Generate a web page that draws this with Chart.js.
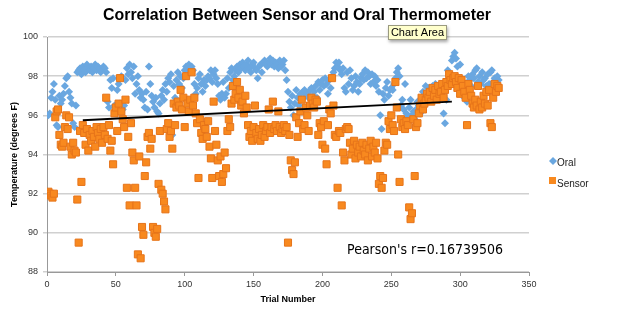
<!DOCTYPE html>
<html>
<head>
<meta charset="utf-8">
<script src="https://cdn.jsdelivr.net/npm/chart.js@4"></script>
<style>
  body { margin: 0; background: #fff; }
  #wrap { position: relative; width: 626px; height: 327px; }
</style>
</head>
<body>
<div id="wrap"><canvas id="chart" width="626" height="327"></canvas></div>
<script>
// trial numbers start at 1
const oral = [
  96.0, 96.1, 96.9, 97.2, 97.6, 96.8, 95.5, 95.4, 97.0, 96.6,
  96.8, 97.1, 97.5, 97.9, 98.0, 97.2, 96.9, 96.6, 95.6, 95.4,
  96.5, 98.2, 98.3, 98.4, 98.1, 98.5, 98.3, 98.2, 98.6, 98.4,
  98.3, 98.5, 98.2, 98.4, 98.6, 98.3, 98.5, 98.4, 98.2, 98.3,
  98.5, 98.4, 98.2, 96.7, 96.4, 97.8, 97.4, 97.9, 96.5, 96.3,
  97.3, 97.6, 96.6, 98.0, 96.3, 96.5, 97.8, 98.4, 98.1, 98.6,
  98.2, 97.9, 98.5, 97.1, 97.6, 98.0, 97.3, 96.9, 97.1, 96.8,
  96.4, 97.2, 96.3, 98.5, 97.6, 97.0, 96.7, 96.4, 96.9, 96.2,
  96.1, 96.6, 97.0, 97.3, 96.8, 97.6, 97.2, 97.9, 97.7, 98.1,
  95.0, 97.5, 96.9, 97.8, 98.2, 97.6, 98.0, 97.4, 97.9, 98.3,
  98.5, 98.4, 98.6, 98.2, 98.5, 98.3, 97.6, 97.1, 97.4, 97.9,
  98.1, 97.6, 97.2, 97.8, 97.5, 97.8, 98.0, 97.9, 98.3, 97.7,
  98.1, 98.3, 97.9, 97.6, 97.0, 96.8, 97.1, 97.7, 96.9, 97.1,
  97.9, 97.4, 98.2, 98.4, 97.8, 98.0, 98.3, 98.5, 98.2, 98.6,
  98.4, 98.7, 98.5, 98.3, 98.6, 98.8, 98.4, 98.2, 98.6, 98.7,
  98.4, 98.3, 97.9, 98.5, 98.6, 98.2, 98.7, 98.8, 98.6, 98.5,
  98.7, 98.9, 98.6, 98.8, 98.5, 98.7, 98.6, 98.4, 98.8, 98.5,
  98.6, 98.8, 98.3, 97.8, 97.2, 96.7, 96.4, 97.0, 96.0, 96.6,
  97.3, 96.9, 96.5, 97.1, 96.8, 97.2, 97.3, 97.0, 97.1, 96.9,
  97.3, 97.4, 97.0, 97.2, 97.5, 96.9, 97.7, 97.3, 97.6, 97.8,
  97.5, 97.9, 97.6, 97.1, 97.8, 97.4, 98.0, 98.2, 98.4, 98.7,
  98.5, 98.7, 98.3, 98.1, 98.4, 97.4, 97.2, 98.2, 97.6, 98.3,
  97.9, 97.3, 97.5, 98.0, 97.7, 97.2, 97.6, 97.9, 98.1, 97.8,
  98.3, 97.9, 98.2, 98.0, 97.6, 98.1, 97.7, 98.0, 97.5, 97.8,
  97.2, 96.0, 95.3, 97.1, 96.8, 97.4, 97.7, 97.0, 97.3, 97.4,
  97.3, 97.6, 97.9, 98.2, 98.4, 98.0, 96.5, 96.8, 96.3, 97.6,
  96.1, 95.9, 96.4, 96.8, 96.0, 96.2, 95.8, 96.3, 96.7, 96.5,
  96.1, 96.9, 97.2, 96.6, 97.5, 97.0, 97.4, 96.8, 97.3, 97.5,
  97.1, 97.6, 97.2, 96.9, 97.4, 97.0, 97.3, 96.1, 95.6, 96.8,
  98.3, 97.9, 98.1, 98.8, 99.0, 99.2, 98.9, 98.5, 97.5, 98.6,
  97.8, 97.1, 96.9, 97.6, 96.7, 98.0, 97.8, 97.5, 98.1, 97.9,
  98.3, 98.4, 97.7, 98.0, 97.6, 98.2, 97.8, 97.9, 97.5, 98.1,
  97.6, 98.2, 98.3, 97.7, 97.9, 97.5, 98.0, 97.8
];

const sensor = [
  92.1, 92.0, 91.9, 91.8, 92.0, 95.9, 96.2, 96.3, 95.0, 94.5,
  94.4, 94.6, 95.4, 96.0, 95.3, 95.9, 94.4, 94.0, 94.6, 94.2,
  94.1, 91.7, 89.5, 95.2, 92.6, 95.5, 95.1, 94.5, 95.3, 94.2,
  95.0, 94.7, 95.2, 94.9, 94.4, 95.4, 95.1, 94.8, 95.3, 94.6,
  95.4, 95.0, 96.9, 94.8, 95.5, 94.2, 94.7, 93.5, 96.1, 96.4,
  95.2, 96.6, 97.9, 96.2, 95.8, 95.4, 96.8, 92.3, 94.9, 91.4,
  95.6, 94.1, 93.7, 92.3, 91.4, 88.9, 93.9, 88.7, 90.3, 89.9,
  92.9, 93.6, 94.9, 95.1, 94.3, 94.8, 90.3, 90.0, 89.8, 90.2,
  92.5, 95.2, 92.2, 92.0, 91.6, 91.2, 95.3, 95.6, 94.9, 95.2,
  94.3, 96.6, 95.5, 96.4, 96.7, 96.5, 97.3, 96.3, 96.9, 95.4,
  98.0, 96.6, 96.2, 96.8, 98.2, 96.5, 96.9, 96.1, 95.6, 92.8,
  95.8, 95.1, 94.8, 95.5, 95.3, 94.9, 95.7, 94.4, 93.8, 92.8,
  96.7, 95.2, 94.5, 93.7, 92.9, 93.9, 92.6, 93.0, 94.1, 93.3,
  95.2, 95.8, 95.4, 96.6, 97.5, 96.8, 97.1, 97.7, 96.9, 97.3,
  96.5, 96.7, 96.1, 97.0, 96.4, 95.5, 94.9, 95.2, 94.7, 95.4,
  96.5, 95.1, 94.8, 95.3, 94.7, 95.0, 95.5, 94.9, 95.2, 95.4,
  96.3, 95.1, 95.4, 96.7, 95.3, 95.5, 95.2, 96.2, 95.4, 95.1,
  95.3, 95.5, 95.2, 95.4, 89.5, 95.0, 93.7, 93.2, 93.0, 93.6,
  95.9, 94.9, 95.6, 96.2, 96.8, 95.3, 95.5, 96.4, 96.0, 95.2,
  96.5, 96.9, 96.6, 96.4, 96.8, 96.7, 95.0, 95.6, 95.4, 94.5,
  95.7, 94.3, 93.5, 95.5, 96.3, 96.1, 97.9, 96.5, 95.0, 94.9,
  92.3, 95.2, 95.1, 91.4, 94.1, 93.7, 95.3, 95.4, 95.3, 94.6,
  94.0, 94.3, 94.7, 93.8, 94.5, 94.1, 94.4, 93.9, 94.6, 94.2,
  94.0, 94.5, 93.7, 94.3, 94.7, 93.9, 94.4, 94.1, 94.6, 93.8,
  92.5, 92.9, 92.3, 92.8, 94.2, 94.6, 94.5, 95.7, 95.3, 96.0,
  95.5, 95.2, 97.7, 96.4, 94.0, 92.6, 95.8, 95.4, 95.6, 95.3,
  95.7, 95.5, 91.3, 90.7, 91.0, 95.8, 92.9, 95.4, 95.6, 96.1,
  96.5, 96.9, 96.3, 96.6, 96.8, 97.1, 96.9, 97.2, 96.7, 97.4,
  97.0, 97.3, 96.8, 97.5, 97.1, 97.2, 97.6, 96.9, 97.3, 97.7,
  97.5, 98.1, 97.8, 97.6, 97.9, 98.0, 97.7, 97.4, 97.9, 97.1,
  97.8, 97.5, 97.2, 96.9, 95.5, 97.6, 97.3, 97.0, 96.6, 96.4,
  96.8, 96.5, 97.5, 96.3, 96.7, 96.4, 97.0, 96.6, 97.2, 96.5,
  97.3, 95.6, 95.4, 96.9, 97.6, 97.2, 97.5, 97.4
];

// trendline ends as drawn in the picture
const trendX = [26, 294];
const trendY = [95.75, 96.7];

const xTicks = [0, 50, 100, 150, 200, 250, 300, 350];
const yTicks = [88, 90, 92, 94, 96, 98, 100];

const titleText = 'Correlation Between Sensor and Oral Thermometer';
const pearsonText = "Pearson's r=0.16739506";

const toPoints = arr => arr.map((v, i) => ({ x: i + 1, y: v }));

Chart.defaults.font.family = '"Liberation Sans", Arial, sans-serif';

const BLUE = '#6aa7e0';
const ORANGE = '#f8891f';

const overlay = {
  id: 'overlay',
  afterDraw(chart) {
    const ctx = chart.ctx;
    ctx.save();

    // title
    ctx.fillStyle = '#000';
    ctx.font = 'bold 16px "Liberation Sans", Arial, sans-serif';
    ctx.textAlign = 'center';
    ctx.textBaseline = 'alphabetic';
    ctx.fillText(titleText, 297, 20, 388);

    // pearson label
    ctx.font = '14px "DejaVu Sans", sans-serif';
    ctx.textAlign = 'left';
    ctx.textBaseline = 'middle';
    ctx.fillText(pearsonText, 347, 250, 156);

    // legend
    ctx.font = '10px "Liberation Sans", Arial, sans-serif';
    ctx.fillStyle = BLUE;
    ctx.beginPath();
    ctx.moveTo(553, 157); ctx.lineTo(557, 161); ctx.lineTo(553, 165); ctx.lineTo(549, 161);
    ctx.closePath(); ctx.fill();
    ctx.fillStyle = '#222';
    ctx.fillText('Oral', 557, 163);
    ctx.fillStyle = ORANGE;
    ctx.fillRect(549, 177, 7, 7);
    ctx.fillStyle = '#222';
    ctx.fillText('Sensor', 557, 184);

    // hover tooltip box left over the title
    ctx.shadowColor = 'rgba(0,0,0,0.35)';
    ctx.shadowBlur = 3;
    ctx.shadowOffsetX = 1;
    ctx.shadowOffsetY = 2;
    ctx.fillStyle = '#ffffcc';
    ctx.fillRect(388, 25, 59, 15);
    ctx.shadowColor = 'transparent';
    ctx.strokeStyle = '#9a9a80';
    ctx.lineWidth = 1;
    ctx.strokeRect(388.5, 25.5, 58, 14);
    ctx.fillStyle = '#000';
    ctx.font = '11px "Liberation Sans", Arial, sans-serif';
    ctx.textAlign = 'center';
    ctx.fillText('Chart Area', 417.5, 33);
    ctx.restore();
  }
};

new Chart(document.getElementById('chart'), {
  type: 'scatter',
  data: {
    datasets: [
      {
        label: 'Trend',
        data: trendX.map((x, i) => ({ x, y: trendY[i] })),
        showLine: true,
        borderColor: '#000',
        borderWidth: 2,
        pointRadius: 0,
        order: 0
      },
      {
        label: 'Sensor',
        data: toPoints(sensor),
        pointStyle: 'rect',
        radius: 5,
        backgroundColor: ORANGE,
        borderColor: '#e6741a',
        borderWidth: 1,
        order: 1
      },
      {
        label: 'Oral',
        data: toPoints(oral),
        pointStyle: 'rectRot',
        radius: 4,
        backgroundColor: BLUE,
        borderColor: BLUE,
        borderWidth: 0,
        order: 2
      }
    ]
  },
  options: {
    responsive: false,
    animation: false,
    layout: { padding: { top: 37, right: 97, left: 0, bottom: 0 } },
    plugins: {
      legend: { display: false },
      tooltip: { enabled: false },
      title: { display: false }
    },
    scales: {
      x: {
        type: 'linear',
        min: 0,
        max: 350,
        afterBuildTicks: s => { s.ticks = xTicks.map(v => ({ value: v })); },
        afterFit: s => { s.height = 55; },
        ticks: { color: '#333', font: { size: 9 }, padding: 3 },
        grid: { drawOnChartArea: false, drawTicks: true, tickLength: 4, color: '#999' },
        border: { color: '#999' },
        title: {
          display: true,
          text: 'Trial Number',
          color: '#000',
          font: { size: 9, weight: 'bold' },
          padding: { top: 0, bottom: 22 }
        }
      },
      y: {
        min: 88,
        max: 100,
        afterBuildTicks: s => { s.ticks = yTicks.map(v => ({ value: v })); },
        afterFit: s => { s.width = 47; },
        ticks: { color: '#333', font: { size: 9 }, padding: 5 },
        grid: { color: '#d0d0d0', lineWidth: 1.5, tickLength: 4 },
        border: { color: '#999' },
        title: {
          display: true,
          text: 'Temperature (degrees F)',
          color: '#000',
          font: { size: 9, weight: 'bold' },
          padding: { top: 9, bottom: 0 }
        }
      }
    }
  },
  plugins: [overlay]
});
</script>
</body>
</html>
